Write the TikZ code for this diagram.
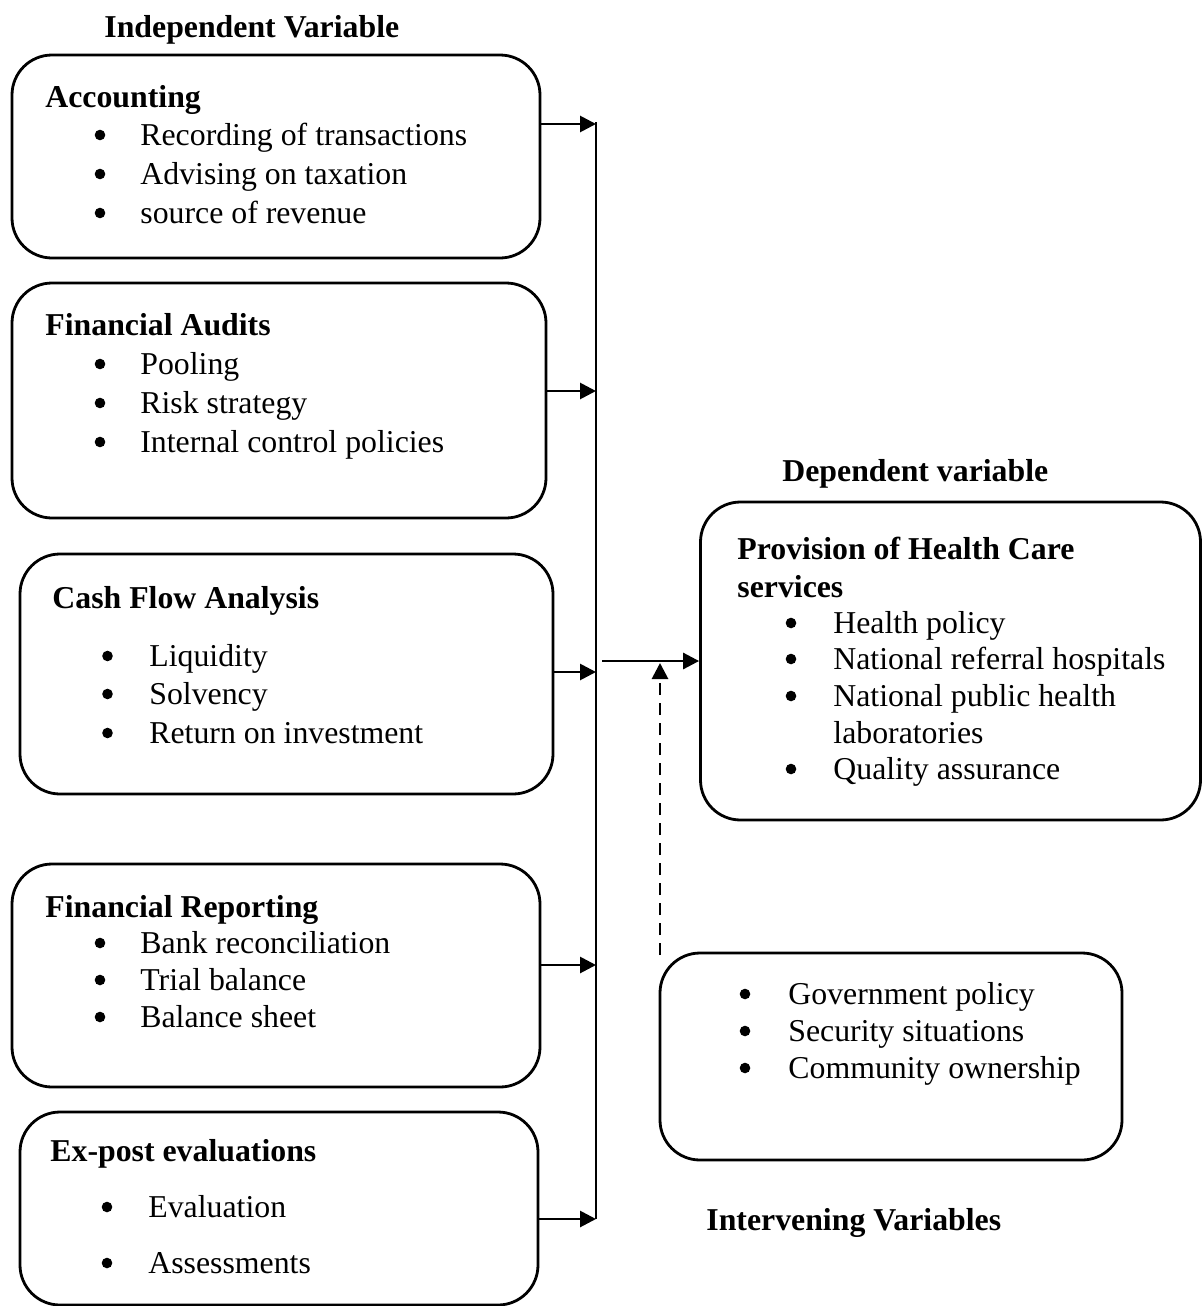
\documentclass[tikz,border=0pt]{standalone}
\usepackage{fontspec}
\setmainfont{Liberation Serif}
\usetikzlibrary{arrows.meta}
\tikzset{
  box/.style={draw, line width=1.4pt, rounded corners=20pt, inner sep=0pt},
  txt/.style={anchor=base west, inner sep=0pt, font=\fontsize{15.9}{19}\selectfont},
  head/.style={txt, font=\fontsize{15.9}{19}\selectfont\bfseries},
  bul/.style={circle, fill, inner sep=0pt, minimum size=5.3pt},
  arr/.style={line width=1.4pt, -{Triangle[length=8pt,width=8pt]}},
  bus/.style={line width=1.4pt},
  dsh/.style={dash pattern=on 6pt off 4pt}
}
\newcommand{\bitem}[5]{%
  \node[bul] (#1b) at (#2,#4-10) {};
  \node[txt] (#1) at (#3,#4) {#5};}
\begin{document}
\begin{tikzpicture}[x=0.5pt,y=-0.5pt]
\useasboundingbox (0,0) rectangle (1202,1306);
% boxes
\node[box, minimum width=264pt, minimum height=101.5pt] (b1) at (276,156.5) {};
\node[box, minimum width=267pt, minimum height=117.5pt] (b2) at (279,400.5) {};
\node[box, minimum width=266.5pt, minimum height=120pt] (b3) at (286.5,674) {};
\node[box, minimum width=264pt, minimum height=111.5pt] (b4) at (276,975.5) {};
\node[box, minimum width=259pt, minimum height=96.5pt] (b5) at (279,1208.5) {};
\node[box, minimum width=250pt, minimum height=159pt] (dep) at (950.5,661) {};
\node[box, minimum width=231pt, minimum height=103.5pt] (int) at (891,1056.5) {};
% labels
\node[head] (lind) at (104,38) {Independent Variable};
\node[head] (ldep) at (782,481) {Dependent variable};
\node[head] (lint) at (706,1230) {Intervening Variables};
% box 1
\node[head] (h1) at (45,107) {Accounting};
\bitem{t11}{100}{140}{145}{Recording of transactions}
\bitem{t12}{100}{140}{184}{Advising on taxation}
\bitem{t13}{100}{140}{223}{source of revenue}
% box 2
\node[head] (h2) at (45,335) {Financial Audits};
\bitem{t21}{100}{140}{374}{Pooling}
\bitem{t22}{100}{140}{413}{Risk strategy}
\bitem{t23}{100}{140}{452}{Internal control policies}
% box 3
\node[head] (h3) at (52,608) {Cash Flow Analysis};
\bitem{t31}{107.5}{149}{666}{Liquidity}
\bitem{t32}{107.5}{149}{704}{Solvency}
\bitem{t33}{107.5}{149}{743}{Return on investment}
% box 4
\node[head] (h4) at (45,917) {Financial Reporting};
\bitem{t41}{100}{140}{953}{Bank reconciliation}
\bitem{t42}{100}{140}{990}{Trial balance}
\bitem{t43}{100}{140}{1027}{Balance sheet}
% box 5
\node[head] (h5) at (50,1161) {Ex-post evaluations};
\bitem{t51}{107}{148}{1217}{Evaluation}
\bitem{t52}{107}{148}{1273}{Assessments}
% dependent
\node[head] (hd1) at (737,559) {Provision of Health Care};
\node[head] (hd2) at (737,597) {services};
\bitem{td1}{791}{833}{633}{Health policy}
\bitem{td2}{791}{833}{669}{National referral hospitals}
\bitem{td3}{791}{833}{706}{National public health}
\node[txt] (td4) at (833,743) {laboratories};
\bitem{td5}{791}{833}{779}{Quality assurance}
% intervening
\bitem{ti1}{745}{788}{1004}{Government policy}
\bitem{ti2}{745}{788}{1041}{Security situations}
\bitem{ti3}{745}{788}{1078}{Community ownership}
% bus and arrows
\coordinate (bt) at (596,122);
\coordinate (a1) at (596,124);
\coordinate (a2) at (596,391);
\coordinate (a3) at (596,672);
\coordinate (a4) at (596,965);
\coordinate (a5) at (596,1219);
\draw[bus] (bt) -- (a5);
\draw[arr] (b1.east |- a1) -- (a1);
\draw[arr] (b2.east |- a2) -- (a2);
\draw[arr] (b3.east |- a3) -- (a3);
\draw[arr] (b4.east |- a4) -- (a4);
\draw[arr] (b5.east |- a5) -- (a5);
\coordinate (m) at (602,661);
\draw[arr] (m) -- (dep.west);
\coordinate (d1) at (660,955);
\coordinate (d2) at (660,663);
\draw[arr, dsh] (d1) -- (d2);
\end{tikzpicture}
\end{document}
